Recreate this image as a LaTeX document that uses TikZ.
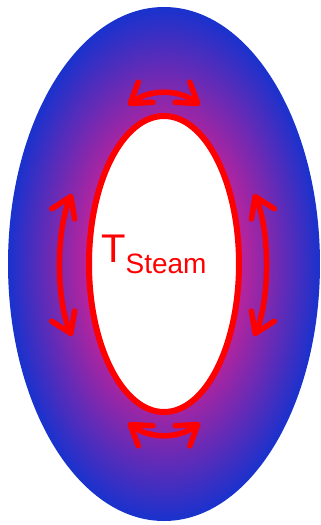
\documentclass[tikz,border=0pt]{standalone}
\usepackage{fontspec}
\setmainfont{Liberation Sans}
\usetikzlibrary{arrows.meta}
\definecolor{glowc}{RGB}{190,35,155}
\definecolor{outc}{RGB}{25,50,205}
\pgfdeclareradialshading{steamglow}{\pgfpoint{0bp}{0bp}}{color(0bp)=(glowc); color(12bp)=(glowc); color(25bp)=(outc); color(50bp)=(outc)}
\tikzset{
  flowarrow/.style={draw=red, line width=5.5pt,
    {Straight Barb[length=19pt,width=25pt,round]}-{Straight Barb[length=19pt,width=25pt,round]}},
  ringline/.style={draw=red, line width=6pt, fill=white},
}
\begin{document}
\begin{tikzpicture}[x=1pt,y=-1pt]
\useasboundingbox (0,0) rectangle (321,525);
\coordinate (c) at (164,264);
\shade[shading=steamglow] (c) ellipse [x radius=156, y radius=257];
\draw[ringline] (c) ellipse [x radius=75, y radius=148];
% arrows
\coordinate (tl) at (128,105); \coordinate (tr) at (200,105);
\coordinate (bl) at (128,423); \coordinate (br) at (200,423);
\coordinate (lt) at (72,194);  \coordinate (lb) at (72,336);
\coordinate (rt) at (254,194); \coordinate (rb) at (254,336);
\draw[flowarrow] (tl) .. controls (150,89) and (178,89) .. (tr);
\draw[flowarrow] (bl) .. controls (150,439) and (178,439) .. (br);
\draw[flowarrow] (lt) .. controls (56,230) and (56,300) .. (lb);
\draw[flowarrow] (rt) .. controls (270,230) and (270,300) .. (rb);
\node[text=red, inner sep=0pt, anchor=base west, font=\fontsize{40}{40}\selectfont] (lbl) at (101,262) {T\raisebox{-11pt}{\fontsize{28}{28}\selectfont Steam}};
\end{tikzpicture}
\end{document}
